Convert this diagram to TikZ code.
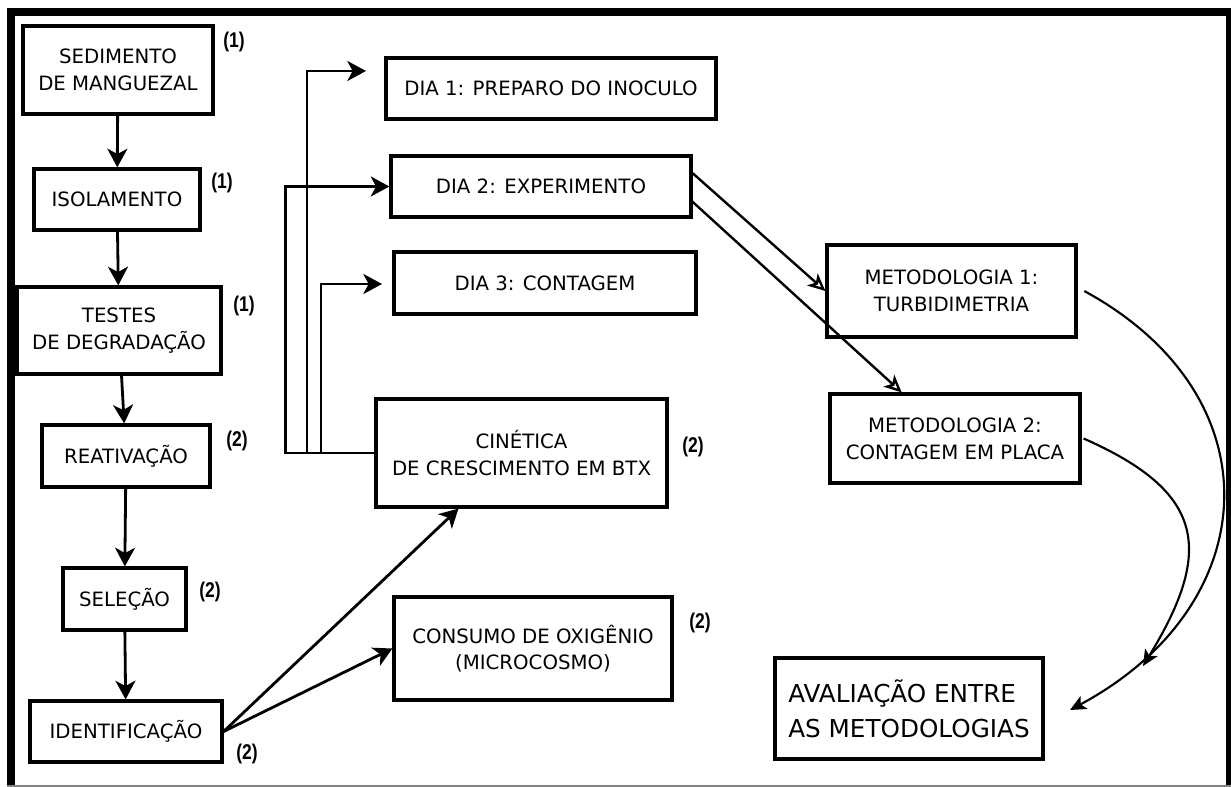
\documentclass[tikz,border=0pt]{standalone}
\usepackage{fontspec}
\setmainfont{DejaVu Sans}
\newfontfamily\numfont[FakeStretch=0.82]{Liberation Sans}
\usetikzlibrary{arrows.meta}

\tikzset{
    box/.style={draw,line width=2.4pt,inner sep=0pt,align=center,font=\fontsize{14.8}{20}\selectfont},
    sz/.style 2 args={minimum width=#1*0.75pt,minimum height=#2*0.75pt},
    num/.style={font=\numfont\bfseries\fontsize{16}{18}\selectfont},
    arr/.style={-{Stealth[length=14pt,width=15pt,inset=4pt]},line width=2.1pt},
    opn/.style={-{Stealth[open,length=13pt,width=12pt,inset=3.5pt]},line width=1.8pt},
    crv/.style={-{Stealth[length=12pt,width=11pt,inset=3pt]},line width=1.6pt}
}

\begin{document}
\begin{tikzpicture}[x=0.75pt,y=-0.75pt]
            \useasboundingbox (0, 0) rectangle (1231, 787);

            \fill (7, 8) rectangle (15, 787);
            \fill (7, 8) rectangle (1231, 16);
            \fill (1226, 8) rectangle (1231, 787);
            \draw[gray,line width=1.2pt] (7, 786) -- (1231, 786);

            \coordinate (D1) at (366, 71);
            \coordinate (D3) at (382, 284);
            \coordinate (E1) at (1070, 710);
            \coordinate (E2) at (1143, 666);

            \node[box,sz={190}{88}] (SED) at (118, 70) {SEDIMENTO\\DE MANGUEZAL};
            \node[box,sz={166}{61}] (ISO) at (117, 199.5) {ISOLAMENTO};
            \node[box,sz={204}{87}] (TES) at (119, 330.5) {TESTES\\DE DEGRADAÇÃO};
            \node[box,sz={168}{62}] (REA) at (126, 456) {REATIVAÇÃO};
            \node[box,sz={123}{62}] (SEL) at (124.5, 599) {SELEÇÃO};
            \node[box,sz={192}{61}] (IDE) at (126, 731.5) {IDENTIFICAÇÃO};
            \node[box,sz={330}{61}] (DIA1) at (551, 88.5) {DIA 1: PREPARO DO INOCULO};
            \node[box,sz={300}{61}] (DIA2) at (541, 186.5) {DIA 2: EXPERIMENTO};
            \node[box,sz={302}{62}] (DIA3) at (545, 283) {DIA 3: CONTAGEM};
            \node[box,sz={291}{108}] (CIN) at (521.5, 453) {CINÉTICA\\DE CRESCIMENTO EM BTX};
            \node[box,sz={278}{103}] (CONS) at (533, 648.5) {CONSUMO DE OXIGÊNIO\\(MICROCOSMO)};
            \node[box,sz={249}{92}] (MET1) at (951.5, 291) {METODOLOGIA 1:\\TURBIDIMETRIA};
            \node[box,sz={250}{89}] (MET2) at (955, 438.5) {METODOLOGIA 2:\\CONTAGEM EM PLACA};
            \node[box,sz={268}{101},align=left,font=\fontsize{18.5}{26}\selectfont] (AVAL) at (909, 708.5) {AVALIAÇÃO ENTRE\\AS METODOLOGIAS};

            \node[num] (N1) at (234, 42) {(1)};
            \node[num] (N2) at (222, 183) {(1)};
            \node[num] (N3) at (244, 306) {(1)};
            \node[num] (N4) at (237, 441) {(2)};
            \node[num] (N5) at (210, 592) {(2)};
            \node[num] (N6) at (247, 754) {(2)};
            \node[num] (N7) at (693, 447) {(2)};
            \node[num] (N8) at (700, 623) {(2)};

            \draw[arr] (SED) -- (ISO);
            \draw[arr] (ISO) -- (TES);
            \draw[arr] (TES) -- (REA);
            \draw[arr] (REA) -- (SEL);
            \draw[arr] (SEL) -- (IDE);
            \draw[arr] (IDE.east) -- ([xshift=-47.25pt]CIN.south);
            \draw[arr] (IDE.east) -- (CONS.west);

            \draw[arr] (CIN.west) -| ([xshift=-44.25pt]D1) -- (D1);
            \draw[arr] (CIN.west) -| ([xshift=-78pt]DIA2.west) -- (DIA2.west);
            \draw[arr] (CIN.west) -| ([xshift=-45.75pt]D3) -- (D3);

            \draw[opn] ([yshift=10pt]DIA2.east) -- (MET1.west);
            \draw[opn] ([yshift=-11.5pt]DIA2.east) -- ([xshift=-40pt]MET2.north);

            \draw[crv] ([xshift=5pt]MET1.east) .. controls (1278, 396.5) and (1265, 605.5) .. (E1);
            \draw[crv] ([xshift=1.5pt]MET2.east) .. controls (1205, 492) and (1214, 550) .. (E2);

        \end{tikzpicture}
\end{document}
